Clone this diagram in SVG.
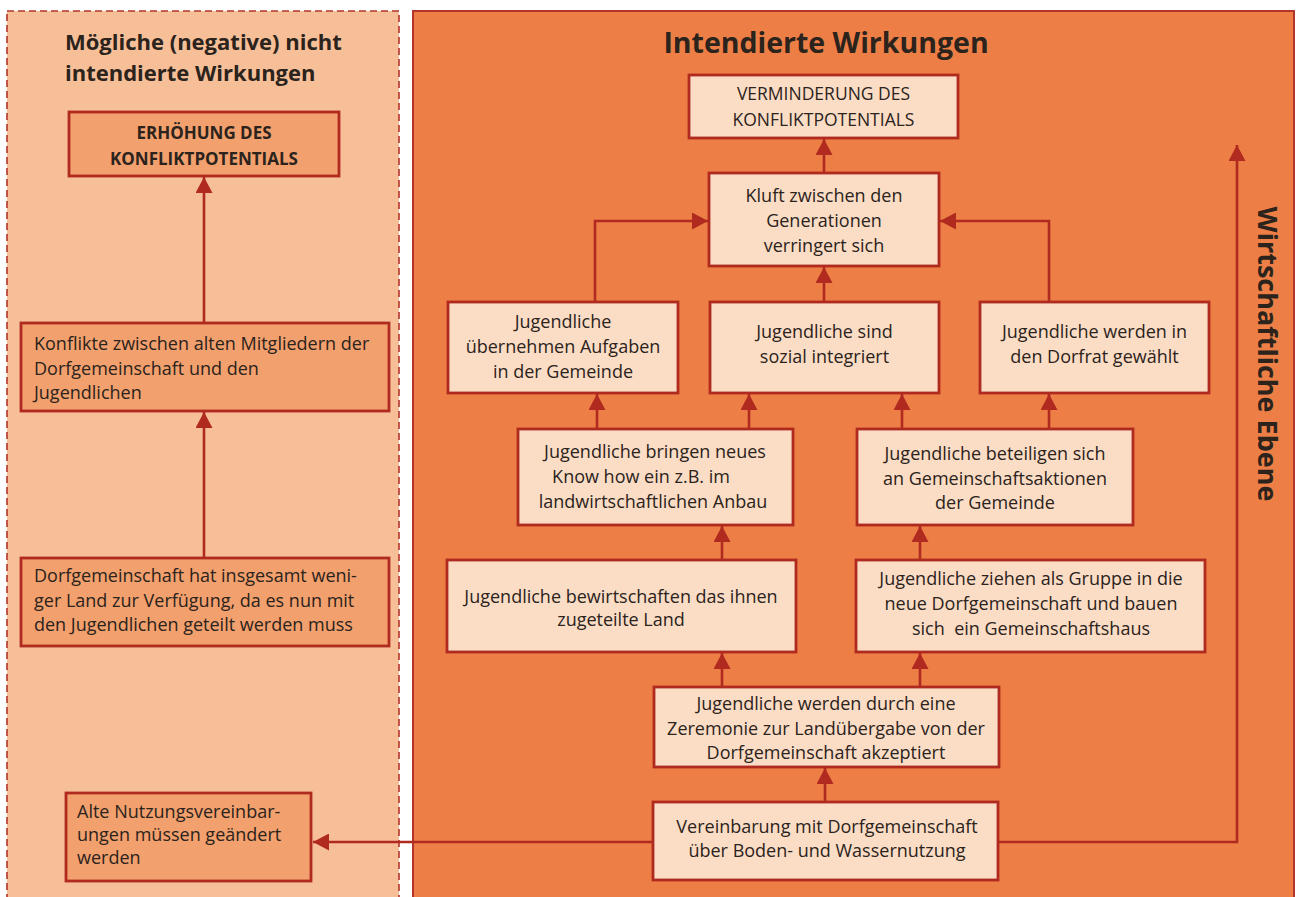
<svg xmlns="http://www.w3.org/2000/svg" width="1296" height="897" viewBox="0 0 1296 897">
<defs>
<style>
.bg{fill:#ffffff}
.lp{fill:#f7bf98;stroke:#b3342a;stroke-width:1.6;stroke-dasharray:7,4}
.rp{fill:#ed7f46;stroke:#b3342a;stroke-width:2}
.lb{fill:#f2a06d;stroke:#b02a20;stroke-width:2.8}
.rb{fill:#fbddc5;stroke:#b02a20;stroke-width:2.8}
.t{font-family:"Open Sans","Liberation Sans",sans-serif;font-size:18px;fill:#2b231c}
.c{text-anchor:middle}
.u{font-size:17.5px}
.b{font-weight:bold}
.h1{font-family:"Open Sans","Liberation Sans",sans-serif;font-weight:bold;font-size:28.5px;fill:#2b231c}
.h2{font-family:"Open Sans","Liberation Sans",sans-serif;font-weight:bold;font-size:22px;fill:#2b231c}
.cn{fill:none;stroke:#b02a20;stroke-width:2.6;marker-end:url(#ah)}
</style>
<marker id="ah" markerUnits="userSpaceOnUse" markerWidth="17" markerHeight="17" refX="16" refY="8.5" orient="auto">
<path d="M0,0 L16,8.5 L0,17 Z" fill="#b02a20"/>
</marker>
</defs>
<rect class="bg" x="0" y="0" width="1296" height="897"/>
<g id="panel-left">
<rect class="lp" x="7" y="11" width="392" height="900"/>
<text class="h2" x="65" y="50">Mögliche (negative) nicht</text>
<text class="h2" x="65" y="81">intendierte Wirkungen</text>
</g>
<g id="panel-right">
<rect class="rp" x="413" y="11" width="881" height="900"/>
<text class="h1 c" x="826" y="53">Intendierte Wirkungen</text>
<text class="h1" style="font-size:27px" text-anchor="middle" transform="translate(1258,354) rotate(90)">Wirtschaftliche Ebene</text>
</g>
<g id="connectors">
<path class="cn" d="M204,323 V177"/>
<path class="cn" d="M204,558 V412"/>
<path class="cn" d="M653,842 H313"/>
<path class="cn" d="M998,842 H1237 V145"/>
<path class="cn" d="M825,802 V768"/>
<path class="cn" d="M722,687 V653"/>
<path class="cn" d="M920,687 V653"/>
<path class="cn" d="M722,560 V526"/>
<path class="cn" d="M920,560 V526"/>
<path class="cn" d="M597,429 V394"/>
<path class="cn" d="M749,429 V394"/>
<path class="cn" d="M902,429 V394"/>
<path class="cn" d="M1049,429 V394"/>
<path class="cn" d="M595,302 V221 H708"/>
<path class="cn" d="M1049,302 V221 H940"/>
<path class="cn" d="M824,302 V267"/>
<path class="cn" d="M824,173 V139"/>
</g>
<g id="n-erhoehung">
<rect class="lb" x="69" y="112" width="270" height="64"/>
<text class="t c b" style="font-size:17px" x="204" y="139">ERHÖHUNG DES</text>
<text class="t c b" style="font-size:17px" x="204" y="165">KONFLIKTPOTENTIALS</text>
</g>
<g id="n-konflikte">
<rect class="lb" x="21" y="323" width="368" height="88"/>
<text class="t" x="34" y="350">Konflikte zwischen alten Mitgliedern der</text>
<text class="t" x="34" y="374.5">Dorfgemeinschaft und den</text>
<text class="t" x="34" y="399">Jugendlichen</text>
</g>
<g id="n-weniger-land">
<rect class="lb" x="21" y="558" width="368" height="88"/>
<text class="t" x="34" y="582">Dorfgemeinschaft hat insgesamt weni-</text>
<text class="t" x="34" y="606.5">ger Land zur Verfügung, da es nun mit</text>
<text class="t" x="34" y="631">den Jugendlichen geteilt werden muss</text>
</g>
<g id="n-alte-nutzung">
<rect class="lb" x="66" y="793" width="245" height="88"/>
<text class="t" x="77" y="818">Alte Nutzungsvereinbar-</text>
<text class="t" x="77" y="841">ungen müssen geändert</text>
<text class="t" x="77" y="864">werden</text>
</g>
<g id="n-verminderung">
<rect class="rb" x="689" y="75" width="269" height="63"/>
<text class="t c u" x="823.5" y="100">VERMINDERUNG DES</text>
<text class="t c u" x="823.5" y="126">KONFLIKTPOTENTIALS</text>
</g>
<g id="n-kluft">
<rect class="rb" x="709" y="173" width="230" height="93"/>
<text class="t c" x="824" y="202">Kluft zwischen den</text>
<text class="t c" x="824" y="227">Generationen</text>
<text class="t c" x="824" y="252">verringert sich</text>
</g>
<g id="n-aufgaben">
<rect class="rb" x="448" y="302" width="230" height="91"/>
<text class="t c" x="563" y="328">Jugendliche</text>
<text class="t c" x="563" y="353">übernehmen Aufgaben</text>
<text class="t c" x="563" y="378">in der Gemeinde</text>
</g>
<g id="n-sozial">
<rect class="rb" x="710" y="302" width="229" height="91"/>
<text class="t c" x="824.5" y="338">Jugendliche sind</text>
<text class="t c" x="824.5" y="363">sozial integriert</text>
</g>
<g id="n-dorfrat">
<rect class="rb" x="980" y="302" width="229" height="91"/>
<text class="t c" x="1094.5" y="338">Jugendliche werden in</text>
<text class="t c" x="1094.5" y="363">den Dorfrat gewählt</text>
</g>
<g id="n-knowhow">
<rect class="rb" x="518" y="429" width="275" height="96"/>
<text class="t c" x="655" y="458">Jugendliche bringen neues</text>
<text class="t c" x="641" y="483">Know how ein z.B. im</text>
<text class="t c" x="653" y="508">landwirtschaftlichen Anbau</text>
</g>
<g id="n-beteiligen">
<rect class="rb" x="857" y="429" width="276" height="96"/>
<text class="t c" x="995" y="460">Jugendliche beteiligen sich</text>
<text class="t c" x="995" y="484.5">an Gemeinschaftsaktionen</text>
<text class="t c" x="995" y="508.5">der Gemeinde</text>
</g>
<g id="n-bewirtschaften">
<rect class="rb" x="447" y="560" width="349" height="92"/>
<text class="t c" x="621" y="602.5">Jugendliche bewirtschaften das ihnen</text>
<text class="t c" x="621" y="626">zugeteilte Land</text>
</g>
<g id="n-ziehen">
<rect class="rb" x="856" y="560" width="349" height="92"/>
<text class="t c" x="1031" y="585">Jugendliche ziehen als Gruppe in die</text>
<text class="t c" x="1031" y="610">neue Dorfgemeinschaft und bauen</text>
<text class="t c" x="1031" y="635" xml:space="preserve">sich  ein Gemeinschaftshaus</text>
</g>
<g id="n-zeremonie">
<rect class="rb" x="654" y="687" width="345" height="80"/>
<text class="t c" x="826" y="710">Jugendliche werden durch eine</text>
<text class="t c" x="826" y="735">Zeremonie zur Landübergabe von der</text>
<text class="t c" x="826" y="759">Dorfgemeinschaft akzeptiert</text>
</g>
<g id="n-vereinbarung">
<rect class="rb" x="653" y="802" width="345" height="78"/>
<text class="t c" x="827" y="833">Vereinbarung mit Dorfgemeinschaft</text>
<text class="t c" x="827" y="857">über Boden- und Wassernutzung</text>
</g>
</svg>
